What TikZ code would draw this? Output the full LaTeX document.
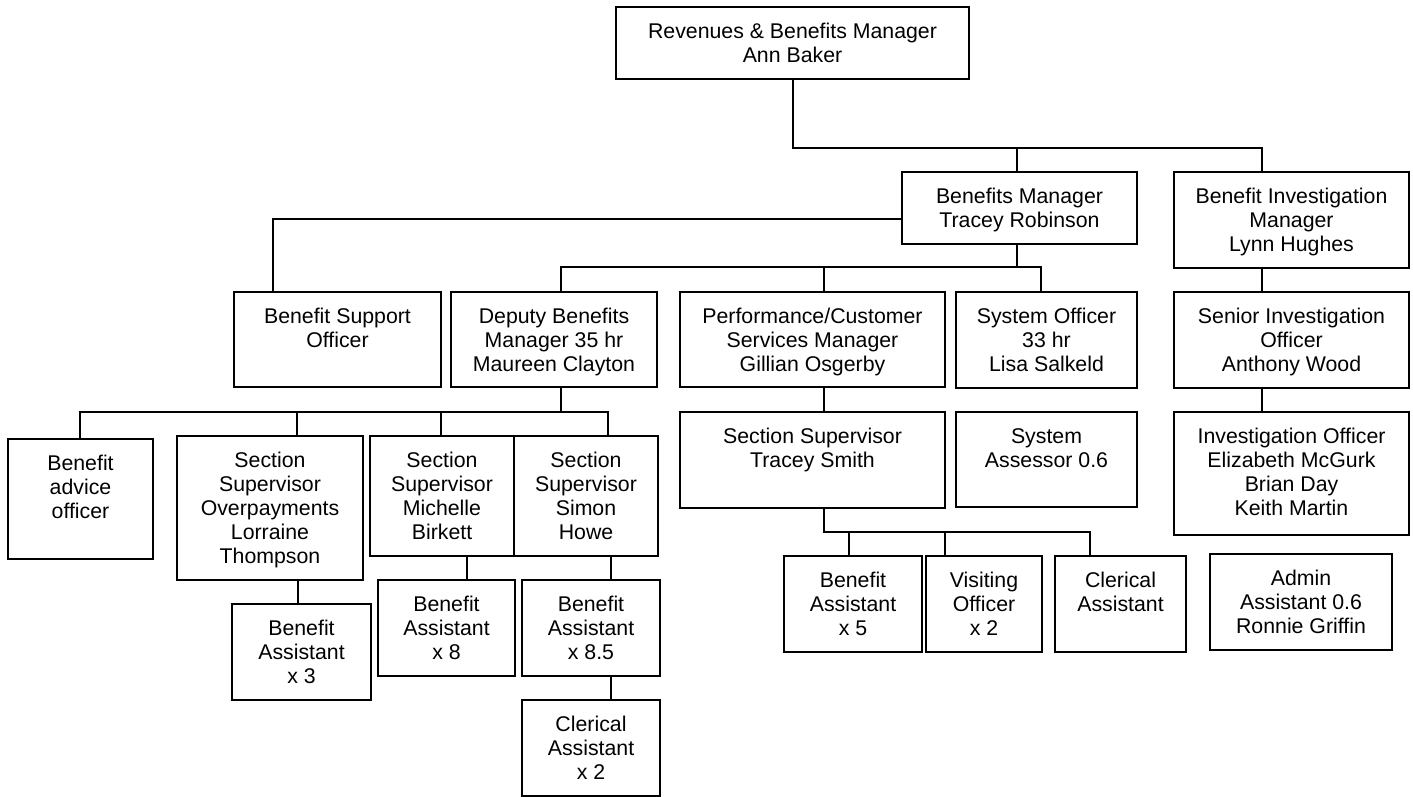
\documentclass[tikz,border=0pt]{standalone}
\usepackage{fontspec}
\setmainfont{Liberation Sans}
\tikzset{
  box/.style={draw=black, line width=1pt, inner sep=0pt, rectangle, fill=white},
  txt/.style={inner sep=0pt, align=center, font=\fontsize{10.65pt}{12pt}\selectfont},
  conn/.style={draw=black, line width=1pt}
}
\newcommand\obox[6]{%
  \node[box, minimum width={(#4-#2)*0.5pt}, minimum height={(#5-#3)*0.5pt}] (#1) at ({(#2+#4)/2},{(#3+#5)/2}) {};
  \node[txt, anchor=north] (#1t) at ({(#2+#4)/2},{#3+16}) {#6};
}
\begin{document}
\begin{tikzpicture}[x=0.5pt,y=-0.5pt]
\useasboundingbox (0,0) rectangle (1413,797);
\obox{top}{616}{7}{969}{79}{Revenues \& Benefits Manager\\Ann Baker}
\obox{bm}{902}{172}{1137}{244}{Benefits Manager\\Tracey Robinson}
\obox{bim}{1174}{172}{1409}{268}{Benefit Investigation\\Manager\\Lynn Hughes}
\obox{bso}{234}{292}{441}{387}{Benefit Support\\Officer}
\obox{dep}{451}{292}{657}{387}{Deputy Benefits\\Manager 35 hr\\Maureen Clayton}
\obox{perf}{680}{292}{945}{387}{Performance/Customer\\Services Manager\\Gillian Osgerby}
\obox{syso}{956}{292}{1137}{388}{System Officer\\33 hr\\Lisa Salkeld}
\obox{sio}{1174}{292}{1409}{388}{Senior Investigation\\Officer\\Anthony Wood}
\obox{io}{1174}{412}{1409}{535}{Investigation Officer\\Elizabeth McGurk\\Brian Day\\Keith Martin}
\obox{ts}{680}{412}{945}{508}{Section Supervisor\\Tracey Smith}
\obox{sa}{956}{412}{1137}{507}{System\\Assessor 0.6}
\obox{bao}{8}{439}{153}{559}{Benefit\\advice\\officer}
\obox{op}{177}{436}{363}{580}{Section\\Supervisor\\Overpayments\\Lorraine\\Thompson}
\obox{mb}{370}{436}{514}{556}{Section\\Supervisor\\Michelle\\Birkett}
\obox{sh}{514}{436}{658}{556}{Section\\Supervisor\\Simon\\Howe}
\obox{ba3}{232}{604}{371}{700}{Benefit\\Assistant\\x 3}
\obox{ba8}{378}{580}{515}{676}{Benefit\\Assistant\\x 8}
\obox{ba85}{522}{580}{660}{676}{Benefit\\Assistant\\x 8.5}
\obox{ca2}{522}{700}{660}{796}{Clerical\\Assistant\\x 2}
\obox{ba5}{784}{556}{922}{652}{Benefit\\Assistant\\x 5}
\obox{vo}{926}{556}{1042}{652}{Visiting\\Officer\\x 2}
\obox{ca}{1055}{556}{1186}{652}{Clerical\\Assistant}
\obox{adm}{1210}{554}{1392}{650}{Admin\\Assistant 0.6\\Ronnie Griffin}
% connectors
\coordinate (r1) at (1262,148);
\coordinate (r1b) at (1017,148);
\draw[conn] (top.south) |- (r1) -- (r1 |- bim.north);
\draw[conn] (r1b) -- (r1b |- bm.north);
\coordinate (l1) at (273,219);
\draw[conn] (l1 -| bm.west) -- (l1) -- (l1 |- bso.north);
\coordinate (b2) at (1017,267);
\coordinate (b2l) at (561,267);
\coordinate (b2m) at (824,267);
\coordinate (b2r) at (1041,267);
\draw[conn] (b2 |- bm.south) -- (b2);
\draw[conn] (b2l |- dep.north) -- (b2l) -- (b2r) -- (b2r |- syso.north);
\draw[conn] (b2m) -- (b2m |- perf.north);
\draw[conn] (r1 |- bim.south) -- (r1 |- sio.north);
\draw[conn] (r1 |- sio.south) -- (r1 |- io.north);
\draw[conn] (b2m |- perf.south) -- (b2m |- ts.north);
\coordinate (b3) at (824,532);
\coordinate (b3a) at (849,532);
\coordinate (b3b) at (945,532);
\coordinate (b3c) at (1090,532);
\draw[conn] (b3 |- ts.south) -- (b3) -- (b3c) -- (b3c |- ca.north);
\draw[conn] (b3a) -- (b3a |- ba5.north);
\draw[conn] (b3b) -- (b3b |- vo.north);
\coordinate (b4) at (561,412);
\coordinate (b4a) at (80,412);
\coordinate (b4b) at (297,412);
\coordinate (b4c) at (441,412);
\coordinate (b4d) at (608,412);
\draw[conn] (b4 |- dep.south) -- (b4);
\draw[conn] (b4a |- bao.north) -- (b4a) -- (b4d) -- (b4d |- sh.north);
\draw[conn] (b4b) -- (b4b |- op.north);
\draw[conn] (b4c) -- (b4c |- mb.north);
\coordinate (c1) at (298,0);
\coordinate (c2) at (467,0);
\coordinate (c3) at (611,0);
\draw[conn] (c1 |- op.south) -- (c1 |- ba3.north);
\draw[conn] (c2 |- mb.south) -- (c2 |- ba8.north);
\draw[conn] (c3 |- sh.south) -- (c3 |- ba85.north);
\draw[conn] (c3 |- ba85.south) -- (c3 |- ca2.north);
\end{tikzpicture}
\end{document}
